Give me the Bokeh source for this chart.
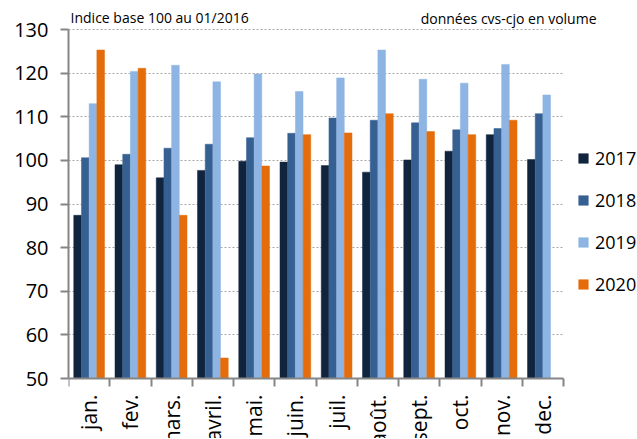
import math
import numpy as np
from bokeh.plotting import figure
from bokeh.models import (ColumnDataSource, FixedTicker, Range1d, Legend, LegendItem, Label)
from bokeh.transform import dodge
from bokeh.embed import file_html
from bokeh.resources import INLINE

months = ["jan.", "fev.", "mars.", "avril.", "mai.", "juin.", "juil.", "août.",
          "sept.", "oct.", "nov.", "dec."]
years = ["2017", "2018", "2019", "2020"]
v2017 = [87.4, 99.0, 96.0, 97.7, 99.8, 99.6, 98.8, 97.3, 100.1, 102.1, 105.9, 100.2]
v2018 = [100.6, 101.4, 102.8, 103.7, 105.2, 106.2, 109.7, 109.2, 108.6, 107.0, 107.3, 110.7]
v2019 = [113.0, 120.4, 121.8, 118.0, 119.8, 115.8, 118.9, 125.3, 118.6, 117.7, 122.0, 115.0]
v2020 = [125.3, 121.1, 87.4, 54.7, 98.7, 105.9, 106.3, 110.7, 106.6, 105.9, 109.2, float("nan")]
y_ticks = [50, 60, 70, 80, 90, 100, 110, 120, 130]

colors = ["#10243E", "#376092", "#8DB4E2", "#E46C0A"]
FONT = "Open Sans"

# layout (pixels)
W, H = 636, 438
LEFT = 68
PX_X = 41.25      # px per month
PX_Y = 4.3625     # px per index point
TOP_130 = 29      # y pixel of 130
BOT_50 = 378      # y pixel of 50

n = len(months)
y_lo, y_hi = y_ticks[0], y_ticks[-1]
x_start = -0.5
x_end = x_start + (W - LEFT) / PX_X
yr_lo = y_lo - (H - BOT_50) / PX_Y
yr_hi = y_hi + TOP_130 / PX_Y

idx = np.arange(n)
src = ColumnDataSource(dict(x=idx, v2017=v2017, v2018=v2018, v2019=v2019, v2020=v2020))

p = figure(width=W, height=H, x_range=Range1d(x_start, x_end),
           y_range=Range1d(yr_lo, yr_hi),
           output_backend="svg", toolbar_location=None,
           min_border_left=LEFT, min_border_right=0, min_border_top=0, min_border_bottom=0)
p.outline_line_color = None
p.background_fill_color = "white"

offsets = [-0.28, -0.093, 0.093, 0.28]
cols = ["v2017", "v2018", "v2019", "v2020"]
renderers = []
for c, off, col in zip(cols, offsets, colors):
    r = p.vbar(x=dodge("x", off, range=p.x_range), top=c, bottom=y_lo, width=0.185,
               source=src, fill_color=col, line_color=col, line_width=0.5)
    renderers.append(r)

# x axis, fixed at y = 50
xa = p.xaxis[0]
xa.fixed_location = y_lo
xa.bounds = (-0.5, n - 0.5)
xa.ticker = FixedTicker(ticks=list(idx), minor_ticks=[i - 0.5 for i in range(n + 1)])
xa.major_label_overrides = {int(i): m for i, m in zip(idx, months)}
xa.major_tick_line_color = None
xa.major_tick_out = 0
xa.major_tick_in = 0
xa.minor_tick_line_color = "#868686"
xa.minor_tick_line_width = 2
xa.minor_tick_out = 8
xa.minor_tick_in = 0
xa.axis_line_color = "#868686"
xa.axis_line_width = 2
xa.major_label_orientation = math.pi / 2
xa.major_label_standoff = 8
xa.major_label_text_font = FONT
xa.major_label_text_font_size = "21px"
xa.major_label_text_color = "black"

# y axis
ya = p.yaxis[0]
ya.bounds = (y_lo, y_hi)
ya.ticker = FixedTicker(ticks=y_ticks)
ya.minor_tick_line_color = None
ya.major_tick_line_color = "#868686"
ya.major_tick_line_width = 2
ya.major_tick_out = 8
ya.major_tick_in = 0
ya.axis_line_color = "#868686"
ya.axis_line_width = 2
ya.major_label_standoff = 12
ya.major_label_text_font = FONT
ya.major_label_text_font_size = "20px"
ya.major_label_text_color = "black"

p.xgrid.visible = False
p.ygrid.ticker = FixedTicker(ticks=y_ticks[1:])
p.ygrid.cross_bounds = (-0.5, n - 0.5)
p.ygrid.grid_line_color = "#A6A6A6"
p.ygrid.grid_line_dash = "2 2"
p.ygrid.grid_line_width = 1

legend = Legend(items=[LegendItem(label=y, renderers=[r]) for y, r in zip(years, renderers)],
                location=(509, 142), orientation="vertical")
legend.border_line_color = None
legend.background_fill_alpha = 0
legend.padding = 0
legend.margin = 0
legend.spacing = 18
legend.glyph_width = 12
legend.glyph_height = 12
legend.label_height = 20
legend.label_standoff = 6
legend.label_text_font = FONT
legend.label_text_font_size = "18px"
legend.label_text_color = "black"
p.add_layout(legend)

p.add_layout(Label(x=-0.45, y=132.8, text="Indice base 100 au 01/2016", text_font=FONT,
                   text_font_size="14px", text_baseline="middle", text_align="left",
                   text_color="black"))
p.add_layout(Label(x=12.3, y=132.6, text="données cvs-cjo en volume", text_font=FONT,
                   text_font_size="14px", text_baseline="middle", text_align="right",
                   text_color="black"))

open("out.html", "w").write(file_html(p, INLINE))
